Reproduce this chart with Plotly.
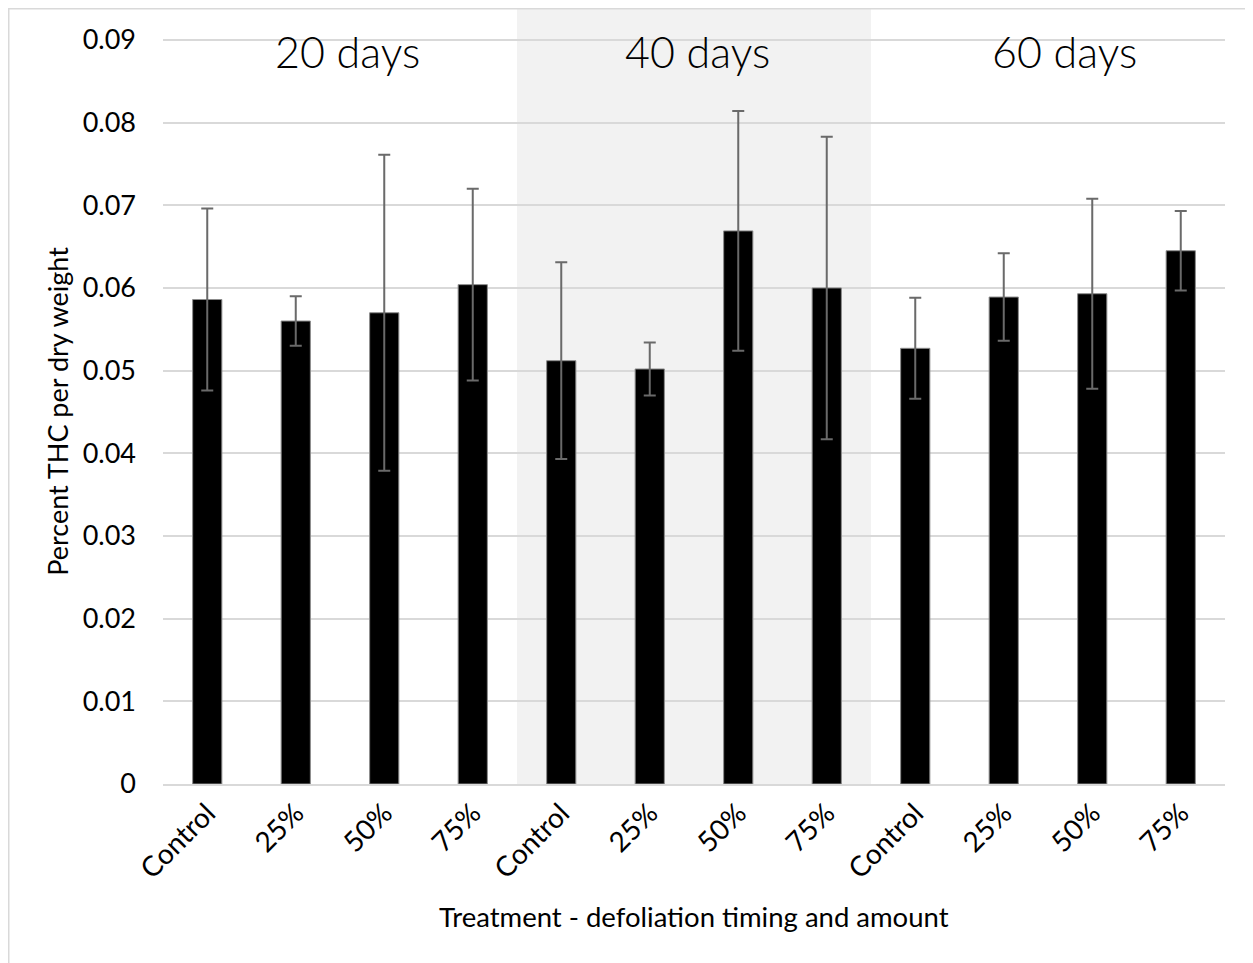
import plotly.graph_objects as go

categories = ["Control", "25%", "50%", "75%",
              "Control", "25%", "50%", "75%",
              "Control", "25%", "50%", "75%"]
thc_mean = [0.0586, 0.0560, 0.0570, 0.0604,
            0.0512, 0.0502, 0.0669, 0.0600,
            0.0527, 0.0589, 0.0593, 0.0645]
thc_err = [0.0110, 0.0030, 0.0191, 0.0116,
           0.0119, 0.0032, 0.0145, 0.0183,
           0.0061, 0.0053, 0.0115, 0.0048]
group_labels = ["20 days", "40 days", "60 days"]
group_label_pos = [1.59, 5.54, 9.69]
shaded_group = [3.5, 7.5]
y_ticks = [0, 0.01, 0.02, 0.03, 0.04, 0.05, 0.06, 0.07, 0.08, 0.09]
y_tick_text = ["0", "0.01", "0.02", "0.03", "0.04", "0.05", "0.06", "0.07", "0.08", "0.09"]

FONT = "Lato"
x_idx = list(range(len(categories)))

# figure sits at an 8px page offset; plot area spans 155..1217 x, 1..776.5 y
W, H = 1245, 955
L, R, T, B = 155, 28, 1, 178.5
PW, PH = W - L - R, H - T - B


def px(xf):
    return (xf - L) / PW


def py(yf):
    return (H - B - yf) / PH


fig = go.Figure()
fig.add_trace(go.Bar(
    x=x_idx, y=thc_mean, width=0.33,
    marker=dict(color="black", line=dict(color="#8c8c8c", width=1)),
    error_y=dict(type="data", array=thc_err, visible=True,
                 color="#6a6a6a", thickness=2, width=6),
    showlegend=False,
))

fig.add_shape(type="rect", xref="x", yref="paper",
              x0=shaded_group[0], x1=shaded_group[1], y0=0, y1=1,
              fillcolor="#f2f2f2", line=dict(width=0), layer="below")

# outer chart border
fig.add_shape(type="rect", xref="paper", yref="paper",
              x0=px(0.75), x1=px(W + 20), y0=py(H + 20), y1=py(0.75),
              line=dict(color="#d9d9d9", width=1.5), fillcolor="rgba(0,0,0,0)")

for lbl, xp in zip(group_labels, group_label_pos):
    fig.add_annotation(x=xp, xref="x", y=py(52 - 8), yref="paper",
                       text=lbl, showarrow=False, xanchor="center", yanchor="middle",
                       font=dict(family=FONT, size=43, color="black", weight=300))

fig.add_annotation(x=px(58 - 8), xref="paper", y=py(412 - 8), yref="paper",
                   text="Percent THC per dry weight", textangle=-90, showarrow=False,
                   xanchor="center", yanchor="middle",
                   font=dict(family=FONT, size=27, color="black"))
fig.add_annotation(x=0.5, xref="paper", y=py(917 - 8), yref="paper",
                   text="Treatment - defoliation timing and amount", showarrow=False,
                   xanchor="center", yanchor="middle",
                   font=dict(family=FONT, size=27.5, color="black"))

fig.update_layout(
    width=W, height=H,
    margin=dict(l=L, r=R, t=T, b=B),
    paper_bgcolor="white", plot_bgcolor="rgba(0,0,0,0)",
    bargap=0.67,
)
fig.update_xaxes(range=[-0.5, 11.5], tickmode="array", tickvals=x_idx, ticktext=categories,
                 tickangle=-45, tickfont=dict(family=FONT, size=28, color="black"),
                 showgrid=False, showline=True, linecolor="#d9d9d9", linewidth=1.5,
                 ticks="", zeroline=False, ticklabelstandoff=0)
fig.update_yaxes(range=[0, 0.09374], tickmode="array", tickvals=y_ticks, ticktext=y_tick_text,
                 tickfont=dict(family=FONT, size=27, color="black"),
                 showgrid=True, gridcolor="#d9d9d9", gridwidth=1.5,
                 zeroline=False, showline=False, ticks="", ticklabelstandoff=26)

fig.write_html("out.html")
